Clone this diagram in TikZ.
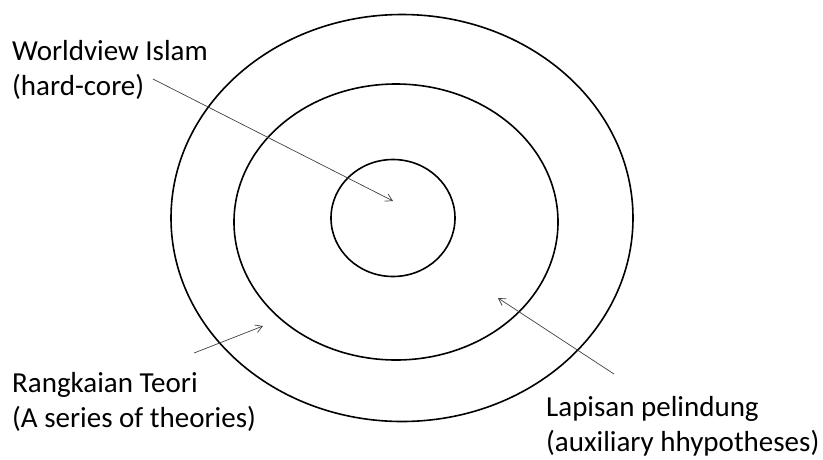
\documentclass[tikz,border=0pt]{standalone}
\usepackage{fontspec}
\setmainfont{Carlito}
\usetikzlibrary{shapes.geometric, arrows.meta, positioning, calc}
\definecolor{cPointer}{RGB}{64,64,64}
\tikzset{
	ring/.style   ={ellipse, draw=black, line width=1.6pt, inner sep=0pt},
	lbl/.style    ={align=left, inner sep=0pt, anchor=north west, font=\fontsize{29}{35}\selectfont},
	pointer/.style={-{Straight Barb[length=2.4mm, width=2.8mm]}, draw=cPointer, line width=0.7pt},
}
\begin{document}
\begin{tikzpicture}[x=1pt, y=-1pt]
	\useasboundingbox (0,0) rectangle (823,459);
	% the three layers
	\node[ring, minimum width=462pt, minimum height=407pt] (belt) at (402,218) {};
	\node[ring, minimum width=324pt, minimum height=276pt] (theory) at (396,222) {};
	\node[ring, minimum width=124pt, minimum height=117pt] (core) at (393,218) {};
	% labels
	\node[lbl] (lcore) at (12,40) {Worldview Islam\\(hard-core)};
	\node[lbl] (ltheory) at (12,372) {Rangkaian Teori\\(A series of theories)};
	\node[lbl] (lbelt) at (546,396) {Lapisan pelindung\\(auxiliary hhypotheses)};
	% arrow ends
	\coordinate (coreFrom) at (153,79);   \coordinate (coreTo) at (393,201);
	\coordinate (theoryFrom) at (194,353); \coordinate (theoryTo) at (263,326);
	\coordinate (beltFrom) at (614,374);  \coordinate (beltTo) at (498,298);
	\draw[pointer] (coreFrom) -- (coreTo);
	\draw[pointer] (theoryFrom) -- (theoryTo);
	\draw[pointer] (beltFrom) -- (beltTo);
\end{tikzpicture}
\end{document}
